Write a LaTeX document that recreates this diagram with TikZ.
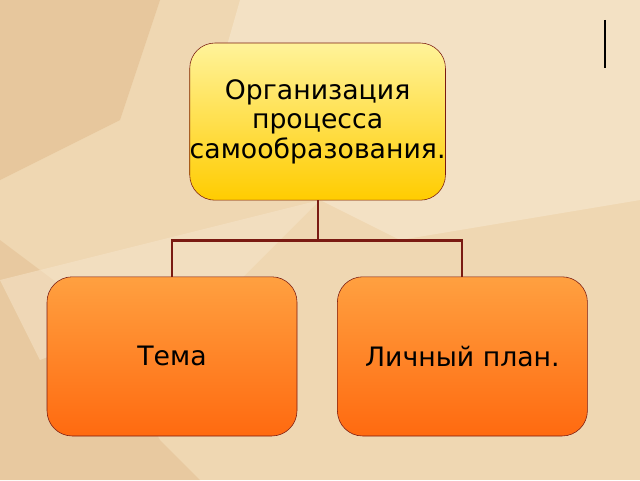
\documentclass[tikz,border=0pt]{standalone}
\usepackage{fontspec}
\setmainfont{DejaVu Sans}
\definecolor{bgbeige}{HTML}{EFD7B2}
\definecolor{bgdark}{HTML}{E2BD8F}
\definecolor{bglight}{HTML}{F6E6CC}
\definecolor{edgered}{HTML}{7A1A12}
\definecolor{topyellow}{HTML}{FFF39A}
\definecolor{botyellow}{HTML}{FFCC00}
\definecolor{toporange}{HTML}{FFA040}
\definecolor{botorange}{HTML}{FF6A10}
\tikzset{
  topbox/.style={draw=edgered, rounded corners=18pt, top color=topyellow, bottom color=botyellow,
    minimum width=6.23cm, minimum height=3.93cm, inner sep=0pt, align=center, font=\fontsize{19}{21}\selectfont},
  subbox/.style={draw=edgered, rounded corners=18pt, top color=toporange, bottom color=botorange,
    minimum width=6.25cm, minimum height=3.98cm, align=center, font=\fontsize{19}{21}\selectfont},
  link/.style={draw=edgered, line width=1.5pt}
}
\begin{document}
\begin{tikzpicture}
    % Fond
    \fill[bgbeige] (0,0) rectangle (16,12);
    \fill[bgdark, opacity=0.6] (0,12) -- (4,12) -- (3,9) -- (0,7.5) -- cycle;
    \fill[bgdark, opacity=0.5] (0,0) -- (0,6) -- (2,4.5) -- (4,1) -- (5,0) -- cycle;
    \fill[bglight, opacity=0.7] (6,12) -- (16,12) -- (16,7) -- (10,6) -- (5,8.5) -- cycle;
    \fill[bglight, opacity=0.5] (0,5) -- (8,7) -- (6,5) -- (1,3) -- cycle;
    \useasboundingbox (0,0) rectangle (16,12);
    \draw[line width=1.5pt] (15.12,11.5) -- (15.12,10.3);

    % Blocs
    \node[topbox] (org) at (7.94,8.96) {Организация\\процесса\\самообразования.};
    \node[subbox] (tema) at (4.3,3.09) {Тема};
    \node[subbox] (plan) at (11.56,3.09) {Личный план.};

    % Liens
    \draw[link] (org.south) -- ++(0,-1) -| (tema.north);
    \draw[link] (org.south) -- ++(0,-1) -| (plan.north);
\end{tikzpicture}
\end{document}
